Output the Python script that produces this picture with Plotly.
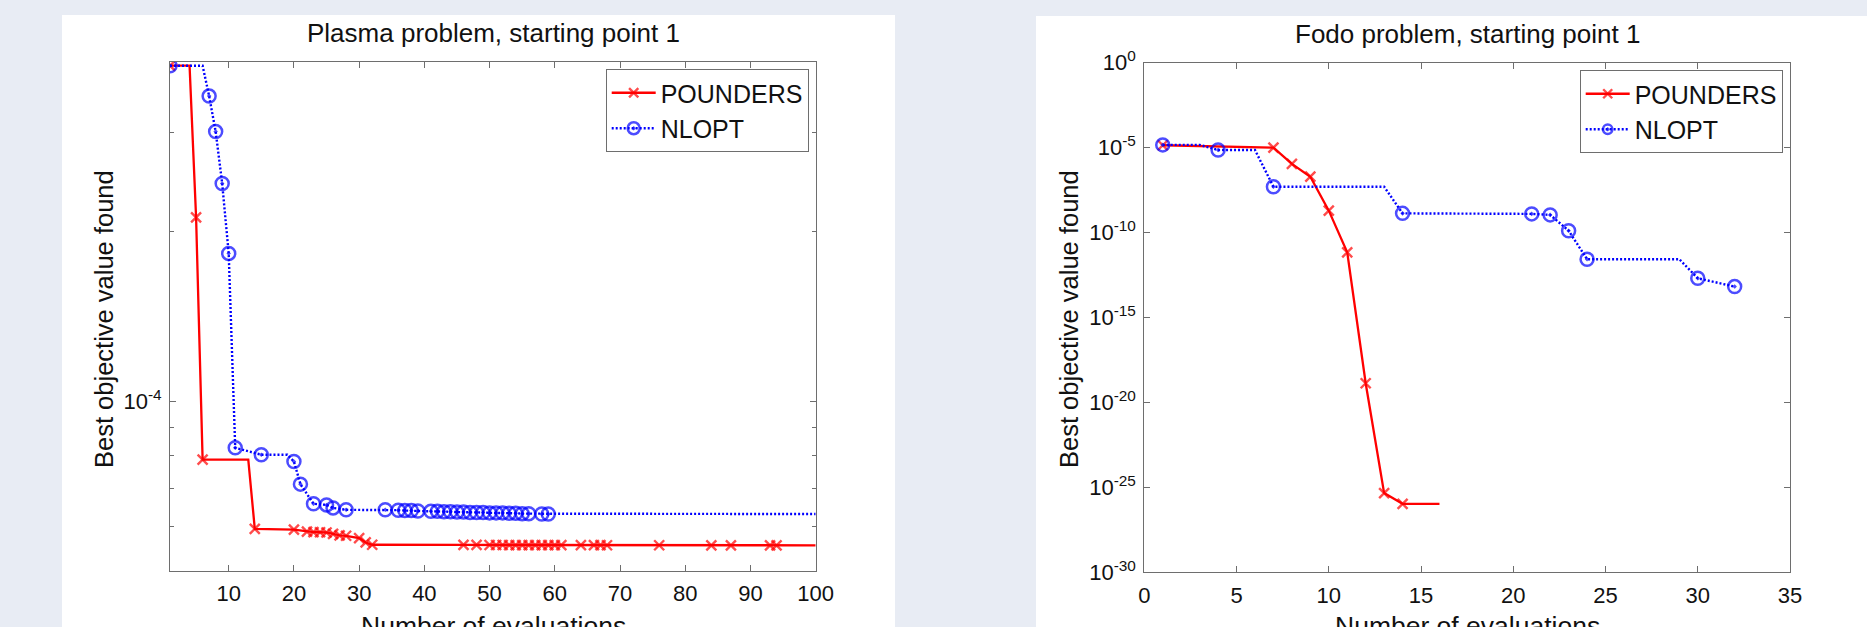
import plotly.graph_objects as go

# ---------------- data: Plasma problem ----------------
plasma_pounders_x = [1, 4, 5, 6, 13, 14, 20, 22, 23, 24, 25, 26, 27, 28, 30, 31, 32,
                     46, 48, 50, 51, 52, 53, 54, 55, 56, 57, 58, 59, 60, 61,
                     64, 66, 67, 68, 76, 84, 87, 93, 94, 100]
plasma_pounders_y = [3.94e-4, 3.94e-4, 2.12e-4, 7.88e-5, 7.88e-5, 5.94e-5, 5.92e-5,
                     5.875e-5, 5.861e-5, 5.858e-5, 5.852e-5, 5.821e-5, 5.785e-5, 5.774e-5,
                     5.72e-5, 5.618e-5, 5.566e-5,
                     5.562e-5, 5.561e-5, 5.56e-5, 5.56e-5, 5.56e-5, 5.559e-5, 5.559e-5,
                     5.559e-5, 5.558e-5, 5.558e-5, 5.558e-5, 5.557e-5, 5.557e-5, 5.557e-5,
                     5.556e-5, 5.556e-5, 5.556e-5, 5.555e-5, 5.555e-5, 5.554e-5, 5.554e-5,
                     5.553e-5, 5.553e-5, 5.553e-5]
plasma_pounders_marked = [1, 0, 1, 1, 0, 1, 1, 1, 1, 1, 1, 1, 1, 1, 1, 1, 1,
                          1, 1, 1, 1, 1, 1, 1, 1, 1, 1, 1, 1, 1, 1,
                          1, 1, 1, 1, 1, 1, 1, 1, 1, 0]

plasma_nlopt_x = [1, 6, 7, 8, 9, 10, 11, 15, 19, 20, 21, 23, 25, 26, 28, 34,
                  36, 37, 38, 39, 41, 42, 43, 44, 45, 46, 47, 48, 49, 50, 51, 52,
                  53, 54, 55, 56, 58, 59, 100]
plasma_nlopt_y = [3.94e-4, 3.94e-4, 3.48e-4, 3.01e-4, 2.435e-4, 1.83e-4, 8.27e-5,
                  8.04e-5, 8.04e-5, 7.82e-5, 7.13e-5, 6.58e-5, 6.55e-5, 6.47e-5, 6.42e-5,
                  6.42e-5, 6.41e-5, 6.40e-5, 6.40e-5, 6.39e-5, 6.38e-5, 6.38e-5, 6.37e-5,
                  6.37e-5, 6.36e-5, 6.36e-5, 6.35e-5, 6.35e-5, 6.35e-5, 6.34e-5, 6.34e-5,
                  6.34e-5, 6.33e-5, 6.33e-5, 6.32e-5, 6.32e-5, 6.31e-5, 6.31e-5, 6.31e-5]
plasma_nlopt_marked = [1, 0, 1, 1, 1, 1, 1, 1, 0, 1, 1, 1, 1, 1, 1, 1,
                       1, 1, 1, 1, 1, 1, 1, 1, 1, 1, 1, 1, 1, 1, 1, 1,
                       1, 1, 1, 1, 1, 1, 0]

# ---------------- data: Fodo problem ----------------
fodo_pounders_x = [1, 7, 8, 9, 10, 11, 12, 13, 14, 16]
fodo_pounders_y = [1.38e-5, 1.0e-5, 1.1e-6, 1.95e-7, 1.95e-9, 6.9e-12, 1.35e-19,
                   4.6e-26, 1.07e-26, 1.07e-26]
fodo_pounders_marked = [1, 1, 1, 1, 1, 1, 1, 1, 1, 0]

fodo_nlopt_x = [1, 3, 4, 6, 7, 13, 14, 21, 22, 23, 24, 29, 30, 32]
fodo_nlopt_y = [1.45e-5, 1.45e-5, 7.2e-6, 7.2e-6, 5.0e-8, 5.0e-8, 1.35e-9, 1.26e-9,
                1.1e-9, 1.29e-10, 2.7e-12, 2.7e-12, 2.04e-13, 6.6e-14]
fodo_nlopt_marked = [1, 0, 1, 0, 1, 0, 1, 1, 1, 1, 1, 0, 1, 1]

# tick labels
plasma_x_ticks = [10, 20, 30, 40, 50, 60, 70, 80, 90, 100]
plasma_y_major = [1e-4]
plasma_y_major_text = ["10<sup>-4</sup>"]
plasma_y_minor = [6e-5, 7e-5, 8e-5, 9e-5, 2e-4, 3e-4]
fodo_x_ticks = [0, 5, 10, 15, 20, 25, 30, 35]
fodo_y_ticks = [1e-30, 1e-25, 1e-20, 1e-15, 1e-10, 1e-5, 1e0]
fodo_y_text = ["10<sup>-30</sup>", "10<sup>-25</sup>", "10<sup>-20</sup>", "10<sup>-15</sup>",
               "10<sup>-10</sup>", "10<sup>-5</sup>", "10<sup>0</sup>"]

# ---------------- layout helpers ----------------
W, H = 1867, 627
FONT = "Liberation Sans, Arial, Helvetica, sans-serif"
RED = "rgb(255,0,0)"
BLUE = "rgb(0,0,255)"
AXC = "rgb(110,110,110)"


def fx(p):
    return p / W


def fy(p):
    return 1 - p / H


def red_trace(x, y, marked, xa, ya, legend):
    return go.Scatter(
        x=x, y=y, xaxis=xa, yaxis=ya, name="POUNDERS", legend=legend,
        mode="lines+markers",
        line=dict(color=RED, width=2.3),
        marker=dict(symbol="x-thin-open", size=[10 if m else 0 for m in marked],
                    color=RED, line=dict(color=RED, width=2.4)),
    )


def blue_trace(x, y, marked, xa, ya, legend):
    return go.Scatter(
        x=x, y=y, xaxis=xa, yaxis=ya, name="NLOPT", legend=legend,
        mode="lines+markers",
        line=dict(color=BLUE, width=2.4, dash="2px,2px"),
        marker=dict(symbol=["circle-open-dot" if m else "circle-open" for m in marked],
                    size=[13 if m else 0 for m in marked],
                    color=BLUE, line=dict(color=BLUE, width=2.5)),
    )


fig = go.Figure()
fig.add_trace(red_trace(plasma_pounders_x, plasma_pounders_y, plasma_pounders_marked, "x", "y", "legend"))
fig.add_trace(blue_trace(plasma_nlopt_x, plasma_nlopt_y, plasma_nlopt_marked, "x", "y", "legend"))
fig.add_trace(red_trace(fodo_pounders_x, fodo_pounders_y, fodo_pounders_marked, "x2", "y2", "legend2"))
fig.add_trace(blue_trace(fodo_nlopt_x, fodo_nlopt_y, fodo_nlopt_marked, "x2", "y2", "legend2"))

axis_common = dict(
    showgrid=False, zeroline=False, showline=True, linecolor=AXC, linewidth=1,
    mirror="ticks", ticks="inside", ticklen=6, tickcolor=AXC, tickwidth=1,
    tickfont=dict(family=FONT, size=22, color="#111"), automargin=False,
)

fig.update_layout(
    width=W, height=H,
    margin=dict(l=0, r=0, t=0, b=0, pad=0, autoexpand=False),
    paper_bgcolor="#E8ECF4",
    plot_bgcolor="white",
    font=dict(family=FONT, color="#111"),
    xaxis=dict(domain=[fx(170), fx(815.7)], range=[1, 100], anchor="y",
               tickmode="array", tickvals=plasma_x_ticks, ticklabelstandoff=3, **axis_common),
    yaxis=dict(domain=[fy(571), fy(62)], type="log", range=[-4.30103, -3.39794], anchor="x",
               tickmode="array", tickvals=plasma_y_major, ticktext=plasma_y_major_text,
               ticklabelstandoff=3,
               minor=dict(tickmode="array", tickvals=plasma_y_minor, ticks="inside",
                          ticklen=4, tickcolor=AXC, showgrid=False),
               **axis_common),
    xaxis2=dict(domain=[fx(1144.3), fx(1790)], range=[0, 35], anchor="y2",
                tickmode="array", tickvals=fodo_x_ticks, ticklabelstandoff=3, **axis_common),
    yaxis2=dict(domain=[fy(572.3), fy(62.7)], type="log", range=[-30, 0], anchor="x2",
                tickmode="array", tickvals=fodo_y_ticks, ticktext=fodo_y_text,
                ticklabelstandoff=3, **axis_common),
    legend=dict(x=fx(808.7), y=fy(69), xanchor="right", yanchor="top",
                bgcolor="white", bordercolor=AXC, borderwidth=1,
                font=dict(family=FONT, size=25, color="#111"), itemwidth=44,
                tracegroupgap=0),
    legend2=dict(x=fx(1782.7), y=fy(70), xanchor="right", yanchor="top",
                 bgcolor="white", bordercolor=AXC, borderwidth=1,
                 font=dict(family=FONT, size=25, color="#111"), itemwidth=44,
                 tracegroupgap=0),
    shapes=[
        dict(type="rect", xref="paper", yref="paper", x0=fx(62), x1=fx(895), y0=-0.01, y1=fy(15),
             fillcolor="white", line=dict(width=0), layer="below"),
        dict(type="rect", xref="paper", yref="paper", x0=fx(1036), x1=1.01, y0=-0.01, y1=fy(16),
             fillcolor="white", line=dict(width=0), layer="below"),
    ],
)

annotations = [
    dict(text="Plasma problem, starting point 1", x=fx(493), y=fy(33), size=26),
    dict(text="Fodo problem, starting point 1", x=fx(1467), y=fy(34), size=26),
    dict(text="Number of evaluations", x=fx(493), y=fy(626), size=26.5),
    dict(text="Number of evaluations", x=fx(1467), y=fy(626), size=26.5),
    dict(text="Best objective value found", x=fx(104), y=fy(319), size=25.5, textangle=-90),
    dict(text="Best objective value found", x=fx(1069), y=fy(319), size=25.5, textangle=-90),
]
for a in annotations:
    size = a.pop("size")
    fig.add_annotation(xref="paper", yref="paper", showarrow=False, xanchor="center",
                       yanchor="middle", font=dict(family=FONT, size=size, color="#111"), **a)

fig.write_html("out.html")
